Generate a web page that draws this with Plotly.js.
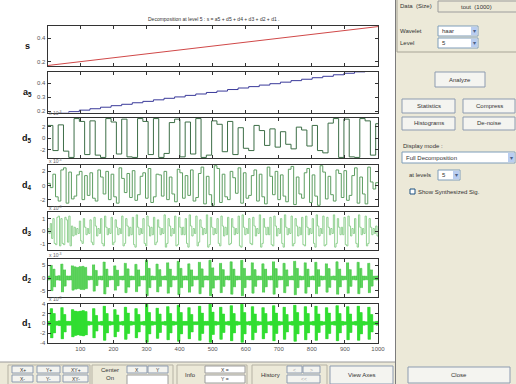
<!DOCTYPE html>
<html><head><meta charset="utf-8">
<script src="https://cdn.plot.ly/plotly-3.0.1.min.js"></script>
<style>html,body{margin:0;padding:0;background:#fff;overflow:hidden}#chart{width:516px;height:384px}</style>
</head><body><div id="chart"></div>
<script>
// ---------------- data ----------------
const N = 1000;
const xTickVals = [100,200,300,400,500,600,700,800,900,1000];
const sX = [1,100,200,300,400,500,600,700,800,900,1000];
const sY = [0.170,0.203,0.236,0.269,0.302,0.335,0.368,0.401,0.434,0.467,0.500];
// approximation a5 : one value per 32-sample block
const a5 = [0.175,0.186,0.196,0.207,0.217,0.228,0.239,0.249,0.260,0.270,0.281,0.292,0.302,0.313,0.323,0.334,
            0.344,0.355,0.366,0.376,0.387,0.397,0.408,0.419,0.429,0.440,0.450,0.461,0.472,0.482,0.493,0.500];
// details (x 10^-3): one Haar coefficient per block
const d5 = [2.2,2.3,-3.4,2.9,3.0,-3.4,2.8,3.3,-3.4,2.9,3.4,-2.7,3.3,2.8,3.4,-3.0,
            2.4,2.9,1.8,-2.2,1.3,1.6,1.1,-1.9,1.4,2.2,-2.6,3.4,3.3,-3.4,3.0,2.5];
const d4 = [0.3,1.6,-2.2,2.5,1.9,-1.5,2.0,1.4,1.8,-2.2,1.2,2.0,1.6,-2.5,1.0,1.7,2.1,-1.3,1.8,2.4,-1.6,
            1.5,2.0,1.2,-2.3,1.8,1.4,2.2,-1.7,2.6,1.3,-2.8,2.4,1.6,-2.0,1.1,2.5,1.8,-1.4,2.2,1.6,-2.6,
            1.3,2.0,1.5,-2.3,2.7,1.2,-1.8,2.4,1.5,-2.8,1.9,1.3,-2.2,1.7,2.1,-1.4,2.5,1.2,-2.6,0.5,0.4];
const d3 = [0.2,0.6,1.0,-1.1,1.2,1.0,-1.1,0.9,1.2,0.4,
            0.3,0.2,0.8,-1.0,0.3,0.2,0.9,-1.1,0.4,0.2,
            1.0,-1.2,0.3,0.2,1.1,-0.9,0.3,0.2,1.2,-1.0,
            0.4,0.3,1.1,-1.3,0.3,0.2,1.0,-1.2,0.4,0.3,
            1.1,-0.9,0.3,0.2,1.3,-1.0,0.4,0.2,1.2,-1.1,
            0.3,0.3,1.0,-1.3,0.4,0.2,1.2,-0.9,0.3,0.2,
            1.3,-1.1,0.3,0.2,1.0,-1.2,0.4,0.3,1.1,-1.0,
            0.3,0.2,1.2,-1.3,0.3,0.2,1.0,-1.1,0.4,0.2,
            1.3,-1.0,0.3,0.3,1.1,-1.2,0.4,0.2,1.0,-1.3,
            0.3,0.2,1.2,-1.0,0.4,0.3,1.1,-1.2,0.3,0.2,
            1.0,-1.3,0.4,0.2,1.2,-1.1,0.3,0.2,1.3,-1.0,
            0.3,0.3,1.1,-1.2,0.4,0.2,1.0,-1.3,0.3,0.2,
            1.2,-1.0,0.3,0.2,0.4];
// d2 and d1: coefficient amplitude per 8-sample cell
const d2Amp = [0.8,5.0,3.5,0.8, 0.9,5.5,3.2,0.8, 0.8,4.8,4.4,4.2, 4.5,4.6,4.2,0.8, 0.7,5.2,3.0,0.7,
               0.8,6.3,3.5,0.8, 0.7,4.8,3.1,0.7, 0.8,5.8,3.6,0.8, 0.7,5.4,3.2,0.7, 0.8,7.0,3.8,0.8,
               0.7,5.5,3.3,0.7, 0.8,6.0,3.5,0.8, 0.7,6.6,3.8,0.8, 0.8,5.6,3.2,0.7, 0.7,6.2,3.6,0.8,
               0.8,7.0,4.0,0.8, 0.7,5.8,3.3,0.7, 0.8,6.4,3.5,0.8, 0.7,7.0,3.8,0.7, 0.8,6.0,3.3,0.8,
               0.7,5.6,3.5,0.7, 0.8,6.4,3.7,0.8, 0.7,5.8,3.2,0.7, 0.8,6.6,3.8,0.8, 0.7,6.0,3.5,0.7,
               0.8,6.2,3.3,0.8, 0.7,5.6,3.7,0.7, 0.8,6.4,3.5,0.8, 0.7,6.0,3.3,0.7, 0.8,6.2,3.8,0.8,
               0.7,5.8,3.2,0.7, 0.8];
const d1Amp = [0.4,3.0,2.0,0.4, 0.5,3.2,1.8,0.4, 0.4,2.8,2.5,2.4, 2.5,2.6,2.4,0.4, 0.3,3.0,1.6,0.3,
               0.4,3.5,2.0,0.4, 0.3,2.8,1.7,0.3, 0.4,3.3,2.1,0.4, 0.3,3.0,1.8,0.3, 0.4,3.9,2.2,0.4,
               0.3,3.1,1.9,0.3, 0.4,3.4,2.0,0.4, 0.3,3.7,2.2,0.4, 0.4,3.2,1.8,0.3, 0.3,3.5,2.1,0.4,
               0.4,3.9,2.3,0.4, 0.3,3.3,1.9,0.3, 0.4,3.6,2.0,0.4, 0.3,3.9,2.2,0.3, 0.4,3.4,1.9,0.4,
               0.3,3.2,2.0,0.3, 0.4,3.6,2.1,0.4, 0.3,3.3,1.8,0.3, 0.4,3.7,2.2,0.4, 0.3,3.4,2.0,0.3,
               0.4,3.5,1.9,0.4, 0.3,3.2,2.1,0.3, 0.4,3.6,2.0,0.4, 0.3,3.4,1.9,0.3, 0.4,3.5,2.2,0.4,
               0.3,3.3,1.8,0.3, 0.4];
const rowLabels = ['s','a<sub>5</sub>','d<sub>5</sub>','d<sub>4</sub>','d<sub>3</sub>','d<sub>2</sub>','d<sub>1</sub>'];
const yTicks = [[0.2,0.4],[0.2,0.3,0.4],[-2,0,2],[-2,0,2],[-1,0,1],[-5,0,5],[-4,-2,0,2,4]];
const yRanges = [[0.166,0.505],[0.19,0.481],[-3.5,3.5],[-2.9,2.9],[-1.53,1.53],[-7.5,7.5],[-4.05,4.05]];
const titleText = 'Decomposition at level 5 : s = a5 + d5 + d4 + d3 + d2 + d1 .';

// ---------------- helpers ----------------
function haarSteps(coefs, B){
  const x=[], y=[];
  coefs.forEach((c,k)=>{
    const x0=k*B+1; if(x0>N) return;
    x.push(x0); y.push(c);
    const x1=x0+B/2; if(x1<=N){x.push(x1); y.push(-c);}
  });
  x.push(N); y.push(y[y.length-1]);
  return {x,y};
}
function cellsToCoefs(amp, B){ const out=[]; amp.forEach(a=>{for(let i=0;i<8/B;i++) out.push(a);}); return out; }
function blocks(vals, B){ const x=[],y=[]; vals.forEach((v,k)=>{const x0=k*B+1; if(x0<=N){x.push(x0);y.push(v);}}); x.push(N); y.push(y[y.length-1]); return {x,y}; }

const F = 'Liberation Sans, Arial, sans-serif';
const W=516, H=384;
const X = p=>p/W, Y = p=>1-p/H;
const panels = [[26,66],[72,112.5],[118,158],[165,206],[212,250],[259,297],[303.5,343]];
const xL = 47.6, xR = 378;

const series = [
  {d:{x:sX,y:sY}, c:'#D04848', shape:'linear', w:1},
  {d:blocks(a5,32), c:'#3A3A9A', shape:'hv', w:1},
  {d:haarSteps(d5,32), c:'#3D6E47', shape:'hv', w:1},
  {d:haarSteps(d4,16), c:'#5E9E62', shape:'hv', w:1},
  {d:haarSteps(d3,8), c:'#86CC86', shape:'hv', w:0.9},
  {d:haarSteps(cellsToCoefs(d2Amp,4),4), c:'#38C838', shape:'hv', w:0.8},
  {d:haarSteps(cellsToCoefs(d1Amp,2),2), c:'#26DC26', shape:'hv', w:0.7}
];

const traces=[]; const layout={width:W,height:H,margin:{l:0,r:0,t:0,b:0},paper_bgcolor:'#ffffff',plot_bgcolor:'#ffffff',
  showlegend:false, shapes:[], annotations:[], font:{family:F}};
series.forEach((s,i)=>{
  const n=i+1, sfx=n===1?'':n;
  traces.push({x:s.d.x,y:s.d.y,type:'scatter',mode:'lines',line:{color:s.c,width:s.w,shape:s.shape},xaxis:'x'+sfx,yaxis:'y'+sfx,hoverinfo:'skip'});
  const [t,b]=panels[i];
  layout['xaxis'+sfx]={domain:[X(xL),X(xR)],range:[1,N],tickvals:xTickVals,ticktext:xTickVals.map(String),ticks:'inside',ticklen:3,tickcolor:'#333',
    showline:true,linecolor:'#333',linewidth:1,mirror:'ticks',showgrid:false,zeroline:false,showticklabels:i===6,anchor:'y'+sfx,
    tickfont:{size:6,color:'#555',family:F}};
  layout['yaxis'+sfx]={domain:[Y(b),Y(t)],range:yRanges[i],tickvals:yTicks[i],ticktext:yTicks[i].map(String),ticks:'inside',ticklen:3,tickcolor:'#333',
    showline:true,linecolor:'#333',linewidth:1,mirror:'ticks',showgrid:false,zeroline:false,anchor:'x'+sfx,
    tickfont:{size:6,color:'#555',family:F}};
  layout.annotations.push({xref:'paper',yref:'paper',x:X(27),y:Y((t+b)/2),text:'<b>'+rowLabels[i]+'</b>',showarrow:false,
    font:{size:9,color:'#111',family:F},xanchor:'center',yanchor:'middle'});
  if(i>=2){
    layout.annotations.push({xref:'paper',yref:'paper',x:X(48),y:Y(t-0.5),text:'x 10<sup>-3</sup>',showarrow:false,
      font:{size:5,color:'#666',family:F},xanchor:'left',yanchor:'bottom',borderpad:0});
  }
});
layout.annotations.push({xref:'paper',yref:'paper',x:X(213),y:Y(19),text:titleText,showarrow:false,
  font:{size:5,color:'#333',family:F},xanchor:'center',yanchor:'middle'});

// ---------------- GUI decoration ----------------
function rect(x0,y0,x1,y1,fill,line,lw){ layout.shapes.push({type:'rect',xref:'paper',yref:'paper',x0:X(x0),x1:X(x1),y0:Y(y1),y1:Y(y0),
  fillcolor:fill,line:{color:line||'rgba(0,0,0,0)',width:lw===undefined?1:lw},layer:'above'}); }
function txt(x,y,t,o){ o=o||{}; layout.annotations.push({xref:'paper',yref:'paper',x:X(x),y:Y(y),text:t,showarrow:false,
  xanchor:o.xa||'center',yanchor:'middle',borderpad:0,font:{size:o.size||6,color:o.color||'#333',family:F}}); }
function btn(x0,y0,x1,y1,label,o){ rect(x0,y0,x1,y1,'#F4F4F0','#8D9BB0'); txt((x0+x1)/2,(y0+y1)/2,label,o); }
function drop(x0,y0,x1,y1,label){ rect(x0,y0,x1,y1,'#FFFFFF','#7F9DB9'); txt(x0+3,(y0+y1)/2,label,{xa:'left'});
  rect(x1-7,y0+1,x1-1,y1-1,'#B9CDF0','#B9CDF0',0); txt(x1-4,(y0+y1)/2,'▾',{size:6,color:'#4D6185'}); }

// right panel
rect(395,0,517,385,'#ECE9D8',null,0);
layout.shapes.push({type:'line',xref:'paper',yref:'paper',x0:X(395.5),x1:X(395.5),y0:0,y1:1,line:{color:'#7C7C7C',width:1}});
rect(397,-3,520,52,'rgba(0,0,0,0)','#A7A496');
txt(399,6,'Data  (Size)',{xa:'left'});
rect(438,1,517,12,'#ECE9D8','#9C9C9C'); txt(476,6.5,'tout  (1000)');
txt(399,31,'Wavelet',{xa:'left'}); drop(438,26,478,36,'haar');
txt(399,43,'Level',{xa:'left'}); drop(438,38,478,48,'5');
btn(435,72,485,87,'Analyze');
btn(402,99,455,113,'Statistics'); btn(463,99,515,113,'Compress');
btn(402,117,455,130,'Histograms'); btn(463,117,515,130,'De-noise');
txt(402,146,'Display mode :',{xa:'left'});
drop(402,152,515,163,'Full Decomposition');
txt(408,175,'at levels',{xa:'left'}); drop(438,170,460,180,'5');
rect(410,189,415,194,'#FFFFFF','#1C5180'); txt(417,192,'Show Synthesized Sig.',{xa:'left'});
btn(408,367,510,383,'Close');

// bottom toolbar
rect(-1,362,395,385,'#ECE9D8',null,0);
layout.shapes.push({type:'line',xref:'paper',yref:'paper',x0:0,x1:X(395),y0:Y(362),y1:Y(362),line:{color:'#9A9A9A',width:1}});
[[8,90],[92,173],[177,247],[252,327]].forEach(g=>rect(g[0],365,g[1],386,'rgba(0,0,0,0)','#B5B2A4'));
btn(12,366,33,373,'X+',{size:5}); btn(37,366,60,373,'Y+',{size:5}); btn(63,366,88,373,'XY+',{size:5});
btn(12,375,33,382,'X-',{size:5}); btn(37,375,60,382,'Y-',{size:5}); btn(63,375,88,382,'XY-',{size:5});
txt(110,369.5,'Center'); txt(110,378,'On');
btn(127,366,147,373,'X',{size:5}); btn(148,366,168,373,'Y',{size:5}); rect(127,375,168,385,'#FFFFFF','#9C9C9C');
txt(190,375,'Info');
rect(205,366,245,373,'#FFFFFF','#9C9C9C'); txt(225,369.5,'X =',{size:5});
rect(205,375,245,383,'#FFFFFF','#9C9C9C'); txt(225,379,'Y =',{size:5});
txt(270,375,'History');
btn(287,366,302,373,'<',{size:5,color:'#A8A8A8'}); btn(303,366,320,373,'>',{size:5,color:'#A8A8A8'});
btn(287,375,320,383,'<<',{size:5,color:'#A8A8A8'});
btn(330,366,393,384,'View Axes');

Plotly.newPlot('chart',traces,layout,{staticPlot:true,displayModeBar:false});
</script></body></html>
